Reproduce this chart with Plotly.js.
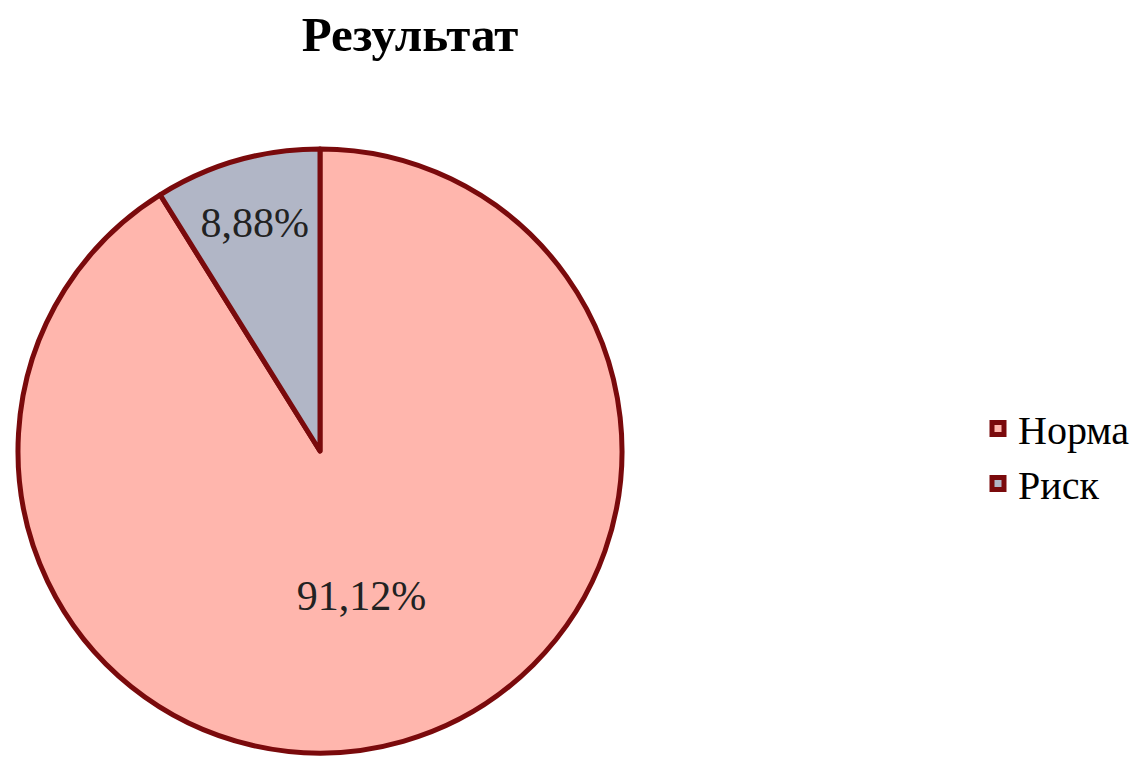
<!DOCTYPE html>
<html>
<head>
<meta charset="utf-8">
<script src="https://cdn.plot.ly/plotly-3.0.1.min.js"></script>
<style>html,body{margin:0;padding:0;background:#fff;}#chart{width:1135px;height:768px;}</style>
</head>
<body>
<div id="chart"></div>
<script>
const categories = ["Норма", "Риск"];
const values = [91.12, 8.88];
const colors = ["#FFB6AD", "#B1B6C6"];
const chartTitle = "Результат";

const W = 1135, H = 768;
const cx = 320, cy = 451, r = 302;
const SERIF = "Liberation Serif";

const data = [{
  type: "pie",
  labels: categories,
  values: values,
  sort: false,
  direction: "clockwise",
  rotation: 0,
  marker: { colors: colors, line: { color: "#7A0A0C", width: 5 } },
  texttemplate: "%{percent:.2%}",
  textposition: "inside",
  insidetextorientation: "horizontal",
  textfont: { family: SERIF, size: 42, color: "#222" },
  hoverinfo: "label+percent",
  domain: { x: [(cx - r) / W, (cx + r) / W], y: [(H - cy - r) / H, (H - cy + r) / H] }
}];

const layout = {
  width: W, height: H,
  margin: { l: 0, r: 0, t: 0, b: 0 },
  paper_bgcolor: "#fff",
  separators: ", ",
  title: {
    text: "<b>" + chartTitle + "</b>",
    x: 410 / W, xanchor: "center",
    y: 1 - 34 / H, yanchor: "middle",
    font: { family: SERIF, size: 49, color: "#000" }
  },
  showlegend: true,
  legend: {
    x: 978 / W, xanchor: "left",
    y: 1 - 456 / H, yanchor: "middle",
    font: { family: SERIF, size: 40, color: "#000" },
    bgcolor: "rgba(0,0,0,0)",
    itemclick: false
  }
};

Plotly.newPlot("chart", data, layout, { displayModeBar: false, staticPlot: true });
</script>
</body>
</html>
